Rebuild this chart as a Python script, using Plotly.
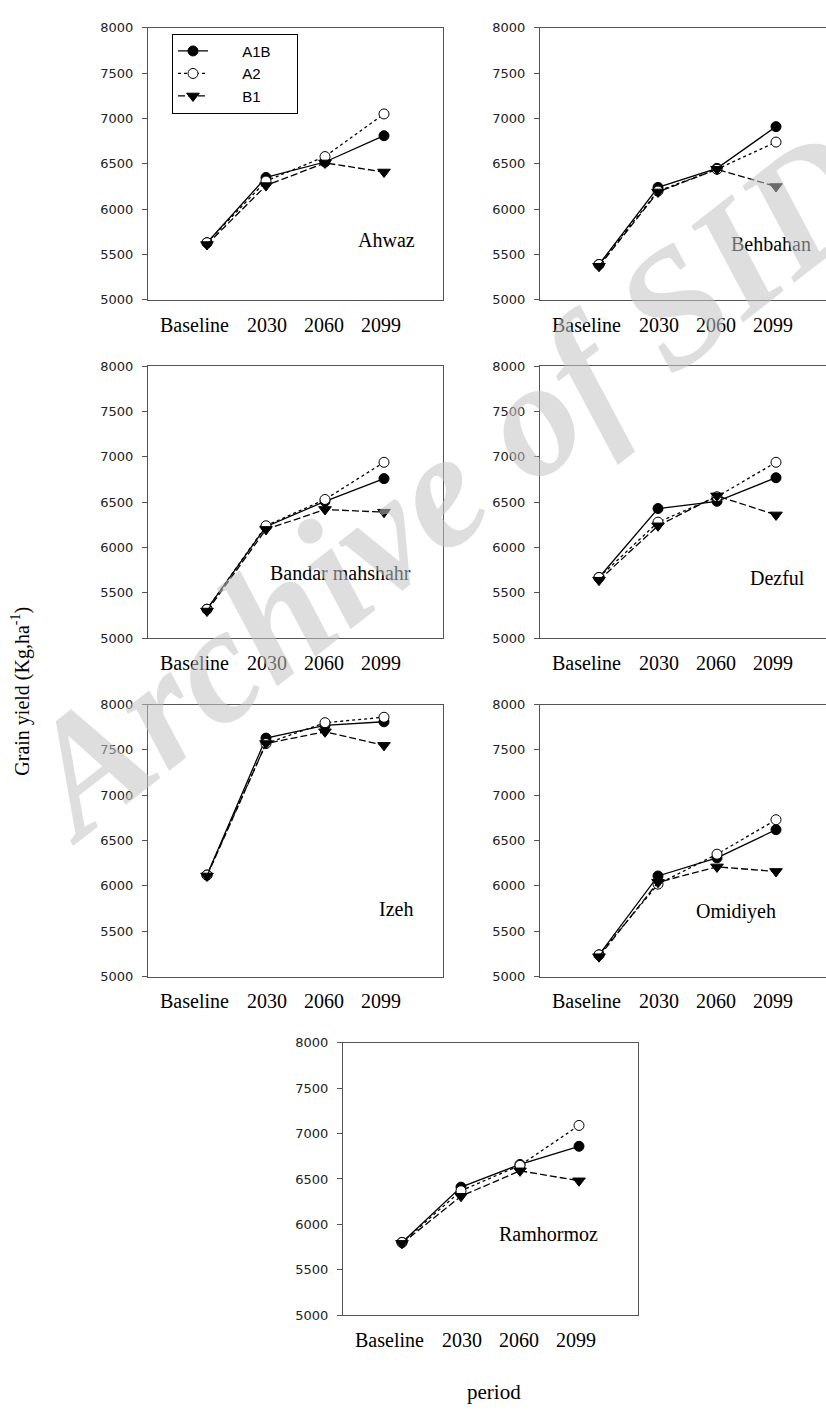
import plotly.graph_objects as go

W, H = 826, 1418

# ---- data ----------------------------------------------------------------
periods = ["Baseline", "2030", "2060", "2099"]
period_x = [0, 1, 2, 3]
scenarios = ["A1B", "A2", "B1"]

stations = ["Ahwaz", "Behbahan", "Bandar mahshahr", "Dezful",
            "Izeh", "Omidiyeh", "Ramhormoz"]

ahwaz_a1b = [5630, 6350, 6520, 6810]
ahwaz_a2 = [5630, 6310, 6580, 7050]
ahwaz_b1 = [5610, 6260, 6510, 6410]

behbahan_a1b = [5390, 6240, 6450, 6910]
behbahan_a2 = [5390, 6200, 6440, 6740]
behbahan_b1 = [5370, 6190, 6440, 6250]

mahshahr_a1b = [5320, 6230, 6510, 6760]
mahshahr_a2 = [5320, 6240, 6530, 6940]
mahshahr_b1 = [5300, 6200, 6420, 6390]

dezful_a1b = [5670, 6430, 6510, 6770]
dezful_a2 = [5670, 6280, 6560, 6940]
dezful_b1 = [5640, 6240, 6570, 6360]

izeh_a1b = [6120, 7630, 7770, 7810]
izeh_a2 = [6120, 7570, 7800, 7860]
izeh_b1 = [6110, 7570, 7700, 7550]

omidiyeh_a1b = [5240, 6110, 6310, 6620]
omidiyeh_a2 = [5240, 6020, 6350, 6730]
omidiyeh_b1 = [5220, 6040, 6210, 6160]

ramhormoz_a1b = [5800, 6410, 6660, 6860]
ramhormoz_a2 = [5800, 6370, 6650, 7090]
ramhormoz_b1 = [5790, 6310, 6590, 6480]

yield_data = {
    "Ahwaz": (ahwaz_a1b, ahwaz_a2, ahwaz_b1),
    "Behbahan": (behbahan_a1b, behbahan_a2, behbahan_b1),
    "Bandar mahshahr": (mahshahr_a1b, mahshahr_a2, mahshahr_b1),
    "Dezful": (dezful_a1b, dezful_a2, dezful_b1),
    "Izeh": (izeh_a1b, izeh_a2, izeh_b1),
    "Omidiyeh": (omidiyeh_a1b, omidiyeh_a2, omidiyeh_b1),
    "Ramhormoz": (ramhormoz_a1b, ramhormoz_a2, ramhormoz_b1),
}

y_ticks = [5000, 5500, 6000, 6500, 7000, 7500, 8000]

# ---- panel geometry (pixels) -------------------------------------------
PANEL_W, PANEL_H = 295, 275
UNIT = PANEL_W / 5.0          # pixels per period step, x range [-1, 4]
panel_origin = {               # left, top of each plot box
    "Ahwaz": (148, 21),
    "Behbahan": (540, 21),
    "Bandar mahshahr": (148, 363),
    "Dezful": (540, 363),
    "Izeh": (148, 705),
    "Omidiyeh": (540, 705),
    "Ramhormoz": (343, 1047),
}
# station name placement: right edge / vertical centre relative to box
name_offset = {
    "Ahwaz": (269, 214),
    "Behbahan": (273, 219),
    "Bandar mahshahr": (265, 209),
    "Dezful": (267, 214),
    "Izeh": (267, 207),
    "Omidiyeh": (238, 209),
    "Ramhormoz": (257, 193),
}
label_pos = [-0.22, 1.02, 1.98, 2.95]   # centres of the period labels

SERIF = "Liberation Serif, Times New Roman, serif"
SANS = "DejaVu Sans, Arial, sans-serif"
AXIS_COLOR = "#555555"
NBSP = "\u00a0"

styles = {
    "A1B": dict(line=dict(color="black", width=1.3, dash="solid"),
                marker=dict(symbol="circle", size=10, color="black",
                            line=dict(color="black", width=1))),
    "A2": dict(line=dict(color="black", width=1.3, dash="dot"),
               marker=dict(symbol="circle", size=10, color="white",
                           line=dict(color="black", width=1))),
    "B1": dict(line=dict(color="black", width=1.3, dash="7px,3px"),
               marker=dict(symbol="triangle-down", size=11, color="black",
                           line=dict(color="black", width=1))),
}

fig = go.Figure()
annotations = []


def px_x(v):
    return v / W


def px_y(v):
    return 1 - v / H


for i, name in enumerate(stations):
    n = i + 1
    xa = "x" if n == 1 else f"x{n}"
    ya = "y" if n == 1 else f"y{n}"
    left, top = panel_origin[name]
    right = min(left + PANEL_W, W)
    bottom = top + PANEL_H
    clipped = left + PANEL_W > W
    x_end = -1 + (right - left) / UNIT

    for scen, values in zip(scenarios, yield_data[name]):
        fig.add_trace(go.Scatter(
            x=period_x, y=values, mode="lines+markers",
            name=NBSP * 7 + scen + NBSP * 5,
            xaxis=xa, yaxis=ya, showlegend=(n == 1), cliponaxis=False,
            **styles[scen]))

    fig.layout[f"xaxis{'' if n == 1 else n}"] = dict(
        domain=[px_x(left), px_x(right)], range=[-1, x_end],
        anchor=ya, showline=True, linecolor=AXIS_COLOR, linewidth=1,
        mirror=True, showgrid=False, zeroline=False, ticks="",
        showticklabels=False, fixedrange=True)
    fig.layout[f"yaxis{'' if n == 1 else n}"] = dict(
        domain=[px_y(bottom), px_y(top)], range=[5000, 8000],
        anchor=xa, showline=True, linecolor=AXIS_COLOR, linewidth=1,
        mirror=(not clipped), showgrid=False, zeroline=False,
        tickvals=y_ticks, ticks="outside", ticklen=5, tickwidth=1,
        tickcolor=AXIS_COLOR, ticklabelstandoff=6,
        tickfont=dict(family=SANS, size=13, color="#222222"),
        fixedrange=True)

    # period labels under each panel
    for lp, txt in zip(label_pos, periods):
        annotations.append(dict(
            x=lp, xref=xa, y=px_y(bottom + 25), yref="paper",
            text=txt, showarrow=False, xanchor="center", yanchor="middle",
            font=dict(family=SERIF, size=20, color="black")))

    # station name inside the box
    dx, dy = name_offset[name]
    annotations.append(dict(
        x=px_x(left + dx), xref="paper", y=px_y(top + dy), yref="paper",
        text=name, showarrow=False, xanchor="right", yanchor="middle",
        font=dict(family=SERIF, size=20, color="black")))

annotations.append(dict(
    x=px_x(21), xref="paper", y=px_y(692), yref="paper",
    text="Grain yield (Kg,ha<sup>-1</sup>)", textangle=-90, showarrow=False,
    xanchor="center", yanchor="middle",
    font=dict(family=SERIF, size=20, color="black")))

annotations.append(dict(
    x=px_x(494), xref="paper", y=px_y(1400), yref="paper",
    text="period", showarrow=False, xanchor="center", yanchor="middle",
    font=dict(family=SERIF, size=21, color="black")))

# archive stamp across the page
annotations.append(dict(
    x=px_x(447), xref="paper", y=px_y(482), yref="paper",
    text="<b><i>Archive of SID</i></b>", textangle=-38, showarrow=False,
    xanchor="center", yanchor="middle",
    font=dict(family=SERIF, size=165, color="rgba(195,195,195,0.55)")))

fig.update_layout(
    width=W, height=H, margin=dict(l=0, r=0, t=0, b=0),
    paper_bgcolor="white", plot_bgcolor="white",
    annotations=annotations,
    legend=dict(x=px_x(172), y=px_y(27), xanchor="left", yanchor="top",
                bordercolor="black", borderwidth=1, bgcolor="white",
                font=dict(family="Liberation Sans, Arial, sans-serif",
                          size=15, color="black"),
                tracegroupgap=0),
)

fig.write_html("out.html")
